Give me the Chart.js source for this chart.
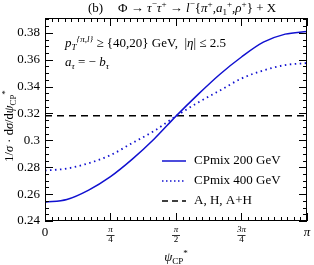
<!DOCTYPE html>
<html>
<head>
<meta charset="utf-8">
<script src="https://cdn.jsdelivr.net/npm/chart.js@4"></script>
<style>
  body { margin: 0; background: #fff; }
  #wrap { width: 314px; height: 265px; }
</style>
</head>
<body>
<div id="wrap"><canvas id="myChart" width="314" height="265"></canvas></div>
<script>
const psi = [0, 0.2618, 0.5236, 0.7854, 1.0472, 1.309, 1.5708, 1.8326, 2.0944, 2.3562, 2.618, 2.8798, 3.1416];
const cpmix200 = [0.254, 0.256, 0.263, 0.273, 0.286, 0.301, 0.318, 0.334, 0.349, 0.362, 0.373, 0.379, 0.381];
const cpmix400 = [0.2775, 0.279, 0.283, 0.289, 0.298, 0.307, 0.318, 0.328, 0.337, 0.346, 0.352, 0.356, 0.3575];
const flatAH = [0.3183, 0.3183];
const flatX = [0, 3.1416];
const yTicks = [0.24, 0.26, 0.28, 0.3, 0.32, 0.34, 0.36, 0.38];
const yLabels = ["0.24", "0.26", "0.28", "0.3", "0.32", "0.34", "0.36", "0.38"];
const xTicks = [0, 0.7854, 1.5708, 2.3562, 3.1416];
const xLabels = [["0"], ["π", "4"], ["π", "2"], ["3π", "4"], ["π"]];
const seriesNames = ["CPmix 200 GeV", "CPmix 400 GeV", "A, H, A+H"];

const FONT = "'Liberation Serif', 'DejaVu Serif', serif";

// draws text made of pieces: [text, mode] with mode n / i / sup / sub / isup / isub
function rich(ctx, x, y, parts, size, align) {
  const measure = (p) => {
    const small = p[1].indexOf("su") >= 0;
    const it = p[1][0] === "i";
    ctx.font = (it ? "italic " : "") + (small ? size * 0.7 : size) + "px " + FONT;
    return ctx.measureText(p[0]).width;
  };
  let total = 0;
  parts.forEach((p) => (total += measure(p)));
  let cx = align === "center" ? x - total / 2 : x;
  parts.forEach((p) => {
    const w = measure(p);
    let dy = 0;
    if (p[1].indexOf("sup") >= 0) dy = -size * 0.4;
    if (p[1].indexOf("sub") >= 0) dy = size * 0.25;
    ctx.fillText(p[0], cx, y + dy);
    cx += w;
  });
}

const framePlugin = {
  id: "frame",
  afterDraw(chart) {
    const ctx = chart.ctx;
    const a = chart.chartArea;
    const xs = chart.scales.x;
    const ys = chart.scales.y;
    ctx.save();
    ctx.fillStyle = "#000";
    ctx.strokeStyle = "#000";
    ctx.lineWidth = 1;
    ctx.strokeRect(a.left + 0.5, a.top + 0.5, a.right - a.left - 1, a.bottom - a.top - 1);

    // y ticks: minor every 0.005
    ctx.beginPath();
    for (let i = 0; i <= 30; i++) {
      const v = 0.24 + i * 0.005;
      if (v > ys.max) break;
      const py = Math.round(ys.getPixelForValue(v)) + 0.5;
      const len = i % 4 === 0 ? 8 : 4;
      ctx.moveTo(a.left, py); ctx.lineTo(a.left + len, py);
      ctx.moveTo(a.right, py); ctx.lineTo(a.right - len, py);
    }
    // x ticks: minor every pi/40
    for (let i = 0; i <= 40; i++) {
      const px = Math.round(xs.getPixelForValue(i * Math.PI / 40)) + 0.5;
      const len = i % 10 === 0 ? 8 : 4;
      ctx.moveTo(px, a.bottom); ctx.lineTo(px, a.bottom - len);
      ctx.moveTo(px, a.top); ctx.lineTo(px, a.top + len);
    }
    ctx.stroke();

    // y labels
    ctx.font = "13px " + FONT;
    ctx.textAlign = "right";
    ctx.textBaseline = "middle";
    yTicks.forEach((v, i) => ctx.fillText(yLabels[i], a.left - 5, ys.getPixelForValue(v)));

    // x labels
    ctx.textAlign = "center";
    xTicks.forEach((v, i) => {
      const px = xs.getPixelForValue(v);
      const lab = xLabels[i];
      if (lab.length === 1) {
        ctx.font = (lab[0] === "π" ? "italic " : "") + "13px " + FONT;
        ctx.fillText(lab[0], px, a.bottom + 12);
      } else {
        ctx.font = "italic 9px " + FONT;
        ctx.fillText(lab[0], px, a.bottom + 9);
        ctx.font = "9px " + FONT;
        ctx.fillText(lab[1], px, a.bottom + 19);
        ctx.fillRect(px - 4, a.bottom + 14, 8, 0.8);
      }
    });

    ctx.textBaseline = "alphabetic";
    ctx.textAlign = "left";
    // x title
    rich(ctx, 176, 261, [["ψ", "i"], ["CP", "sub"], ["*", "sup"]], 13, "center");

    // title
    rich(ctx, 88, 12, [["(b)", "n"]], 13);
    rich(ctx, 118, 12, [
      ["Φ → ", "n"], ["τ", "i"], ["−", "sup"], ["τ", "i"], ["+", "sup"], [" → ", "n"],
      ["l", "i"], ["−", "sup"], ["{", "n"], ["π", "i"], ["+", "sup"], [",", "n"],
      ["a", "i"], ["1", "sub"], ["+", "sup"], [",", "n"], ["ρ", "i"], ["+", "sup"], ["} + X", "n"]
    ], 13);

    // annotation
    rich(ctx, 65, 47, [
      ["p", "i"], ["T", "isub"], ["{π,l}", "isup"], [" ≥ {40,20} GeV,  |", "n"], ["η", "i"], ["| ≤ 2.5", "n"]
    ], 13);
    rich(ctx, 65, 66, [["a", "i"], ["τ", "isub"], [" = − ", "n"], ["b", "i"], ["τ", "isub"]], 13);

    // y title
    ctx.save();
    ctx.translate(13, 126);
    ctx.rotate(-Math.PI / 2);
    rich(ctx, 0, 0, [
      ["1/", "n"], ["σ", "i"], [" · d", "n"], ["σ", "i"], ["/d", "n"], ["ψ", "i"], ["CP", "sub"], ["*", "sup"]
    ], 12.5, "center");
    ctx.restore();

    // legend
    const rows = [161, 181, 201];
    const styles = [
      { c: "#1010d0", d: [], w: 1.5 },
      { c: "#1010d0", d: [1.5, 2.5], w: 1.5 },
      { c: "#000", d: [6, 4], w: 1.5 }
    ];
    rows.forEach((ry, i) => {
      ctx.beginPath();
      ctx.strokeStyle = styles[i].c;
      ctx.lineWidth = styles[i].w;
      ctx.setLineDash(styles[i].d);
      ctx.moveTo(162, ry); ctx.lineTo(186, ry);
      ctx.stroke();
      ctx.setLineDash([]);
      ctx.font = "13px " + FONT;
      ctx.fillStyle = "#000";
      ctx.textBaseline = "middle";
      ctx.fillText(seriesNames[i], 194, ry);
    });
    ctx.restore();
  }
};

const toPts = (xv, yv) => xv.map((x, i) => ({ x: x, y: yv[i] }));

new Chart(document.getElementById("myChart").getContext("2d"), {
  type: "line",
  data: {
    datasets: [
      { label: seriesNames[0], data: toPts(psi, cpmix200), borderColor: "#1010d0", borderWidth: 1.5, cubicInterpolationMode: "monotone" },
      { label: seriesNames[1], data: toPts(psi, cpmix400), borderColor: "#1010d0", borderWidth: 1.8, borderDash: [1.5, 3.5], cubicInterpolationMode: "monotone" },
      { label: seriesNames[2], data: toPts(flatX, flatAH), borderColor: "#000", borderWidth: 1.5, borderDash: [7, 5] }
    ]
  },
  options: {
    responsive: false,
    animation: false,
    layout: { padding: { left: 45, right: 7, top: 18, bottom: 44 } },
    elements: { point: { radius: 0 } },
    plugins: { legend: { display: false }, tooltip: { enabled: false } },
    scales: {
      x: { type: "linear", min: 0, max: 3.1416, display: false },
      y: { type: "linear", min: 0.24, max: 0.391, display: false }
    }
  },
  plugins: [framePlugin]
});
</script>
</body>
</html>
